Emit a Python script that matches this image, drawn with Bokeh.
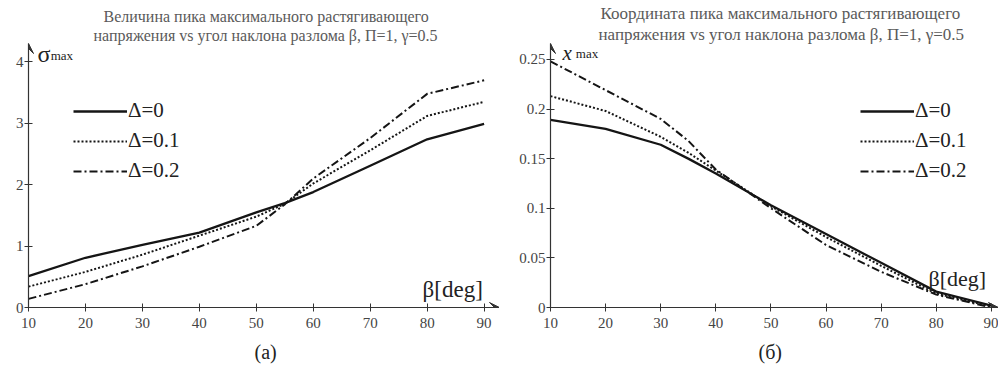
from bokeh.plotting import figure
from bokeh.layouts import row
from bokeh.models import Range1d, FixedTicker, Label, Arrow, VeeHead, Legend, LegendItem, Title
from bokeh.embed import file_html
from bokeh.resources import INLINE

# ---- data (panel a) ----
beta_a = [10, 20, 30, 40, 50, 55, 60, 70, 80, 90]
sigma_d0 = [0.51, 0.81, 1.02, 1.22, 1.55, 1.70, 1.88, 2.31, 2.74, 2.99]
sigma_d01 = [0.34, 0.58, 0.86, 1.17, 1.48, 1.69, 2.02, 2.56, 3.12, 3.35]
sigma_d02 = [0.14, 0.38, 0.67, 0.99, 1.33, 1.68, 2.10, 2.76, 3.48, 3.70]

# ---- data (panel б) ----
beta_b = [10, 20, 30, 35, 40, 50, 60, 70, 80, 90]
xmax_d0 = [0.189, 0.180, 0.164, 0.150, 0.135, 0.103, 0.074, 0.045, 0.016, 0.002]
xmax_d01 = [0.213, 0.198, 0.172, 0.156, 0.138, 0.102, 0.071, 0.042, 0.014, 0.001]
xmax_d02 = [0.248, 0.219, 0.190, 0.168, 0.139, 0.100, 0.063, 0.036, 0.013, 0.000]

x_ticks = [10, 20, 30, 40, 50, 60, 70, 80, 90]
y_ticks_a = [0, 1, 2, 3, 4]
y_ticks_b = [0, 0.05, 0.1, 0.15, 0.2, 0.25]
labels = ["\u0394=0", "\u0394=0.1", "\u0394=0.2"]

SERIF = "'Liberation Serif', 'Times New Roman', serif"
SERIF2 = "serif"
INK = "#151515"
GRAY = "#5a5a5a"


def base_fig(width, left, xr, yr, xt, yt, title_lines, title_offsets, title_size,
             caption, cap_offset):
    p = figure(width=width, height=374, output_backend="svg", toolbar_location=None,
               x_range=Range1d(*xr), y_range=Range1d(*yr),
               min_border_left=left, min_border_right=0, min_border_top=43,
               min_border_bottom=67)
    p.outline_line_color = None
    p.grid.visible = False
    p.background_fill_color = "white"
    p.border_fill_color = "white"
    for ax in (p.xaxis[0], p.yaxis[0]):
        ax.axis_line_color = "#333333"
        ax.axis_line_width = 1.2
        ax.major_tick_line_color = "#333333"
        ax.major_tick_in = 4
        ax.major_tick_out = 4
        ax.minor_tick_line_color = None
        ax.major_label_text_font = SERIF2
        ax.major_label_text_font_size = "15px"
        ax.major_label_text_color = "#444444"
    p.xaxis.ticker = FixedTicker(ticks=xt)
    p.yaxis.ticker = FixedTicker(ticks=yt)
    p.xaxis.major_label_standoff = 6
    p.yaxis.major_label_standoff = 1
    # two-line title above the frame (bottom line added first)
    for line, off in reversed(list(zip(title_lines, title_offsets))):
        p.add_layout(Title(text=line, align="left", offset=off, standoff=0,
                           text_font=SERIF, text_font_size=title_size,
                           text_font_style="normal", text_color=GRAY), "above")
    p.add_layout(Title(text=caption, align="left", offset=cap_offset, standoff=16,
                       text_font=SERIF, text_font_size="20px", text_font_style="normal",
                       text_color="#222222"), "below")
    # axis arrow heads
    dx = (xr[1] - xr[0]) * 0.01
    dy = (yr[1] - yr[0]) * 0.01
    p.add_layout(Arrow(x_start=xr[1] - dx, y_start=yr[0], x_end=xr[1], y_end=yr[0],
                       line_color="#333333", line_width=1,
                       end=VeeHead(size=10, fill_color="#333333", line_color="#333333")))
    p.add_layout(Arrow(x_start=xr[0], y_start=yr[1] - dy, x_end=xr[0], y_end=yr[1],
                       line_color="#333333", line_width=1,
                       end=VeeHead(size=10, fill_color="#333333", line_color="#333333")))
    return p


def add_series(p, xs, ys_list, loc):
    r0 = p.line(xs, ys_list[0], line_color=INK, line_width=2.3)
    r1 = p.line(xs, ys_list[1], line_color=INK, line_width=2.0, line_dash="2 2")
    r2 = p.line(xs, ys_list[2], line_color=INK, line_width=2.0, line_dash="8 3 2 3")
    items = [LegendItem(label=labels[i], renderers=[r]) for i, r in enumerate([r0, r1, r2])]
    lg = Legend(items=items, location=loc, margin=0, padding=0, spacing=5,
                glyph_width=54, glyph_height=24, label_height=24, label_standoff=1,
                label_text_font=SERIF2, label_text_font_size="21px", label_text_color="#222222",
                background_fill_alpha=0, border_line_color=None)
    p.add_layout(lg)


# ---------------- panel (a) ----------------
xr_a = (10, 92.7)
yr_a = (0, 4.3)
pa = base_fig(499, 28, xr_a, yr_a, x_ticks, y_ticks_a,
              ["Величина пика максимального растягивающего",
               "напряжения vs угол наклона разлома β, П=1, γ=0.5"], [75, 65], "16px",
              "(a)", 226)
add_series(pa, beta_a, [sigma_d0, sigma_d01, sigma_d02], (45, 124))

pa.add_layout(Label(x=11.6, y=4.125, text="σ", text_font=SERIF, text_font_size="24px",
                    text_color="#222222", text_baseline="middle"))
pa.add_layout(Label(x=13.9, y=4.11, text="max", text_font=SERIF, text_font_size="13px",
                    text_color="#222222", text_baseline="middle"))
pa.add_layout(Label(x=79.2, y=0.30, text="β[deg]", text_font=SERIF, text_font_size="23px",
                    text_color="#222222", text_baseline="middle"))

# ---------------- panel (б) ----------------
xr_b = (10, 91.3)
yr_b = (0, 0.266)
pb = base_fig(499, 51, xr_b, yr_b, x_ticks, y_ticks_b,
              ["Координата пика максимального растягивающего",
               "напряжения vs угол наклона разлома β, П=1, γ=0.5"], [50, 48], "17px",
              "(б)", 208)
add_series(pb, beta_b, [xmax_d0, xmax_d01, xmax_d02], (310, 124))

pb.add_layout(Label(x=12.2, y=0.2568, text="x", text_font=SERIF, text_font_size="21px",
                    text_font_style="italic", text_color="#222222", text_baseline="middle"))
pb.add_layout(Label(x=14.6, y=0.2555, text="max", text_font=SERIF, text_font_size="13px",
                    text_color="#222222", text_baseline="middle"))
pb.add_layout(Label(x=78.6, y=0.0296, text="β[deg]", text_font=SERIF, text_font_size="22px",
                    text_color="#222222", text_baseline="middle"))

layout = row(pa, pb, spacing=0)
open("out.html", "w").write(file_html(layout, INLINE))
